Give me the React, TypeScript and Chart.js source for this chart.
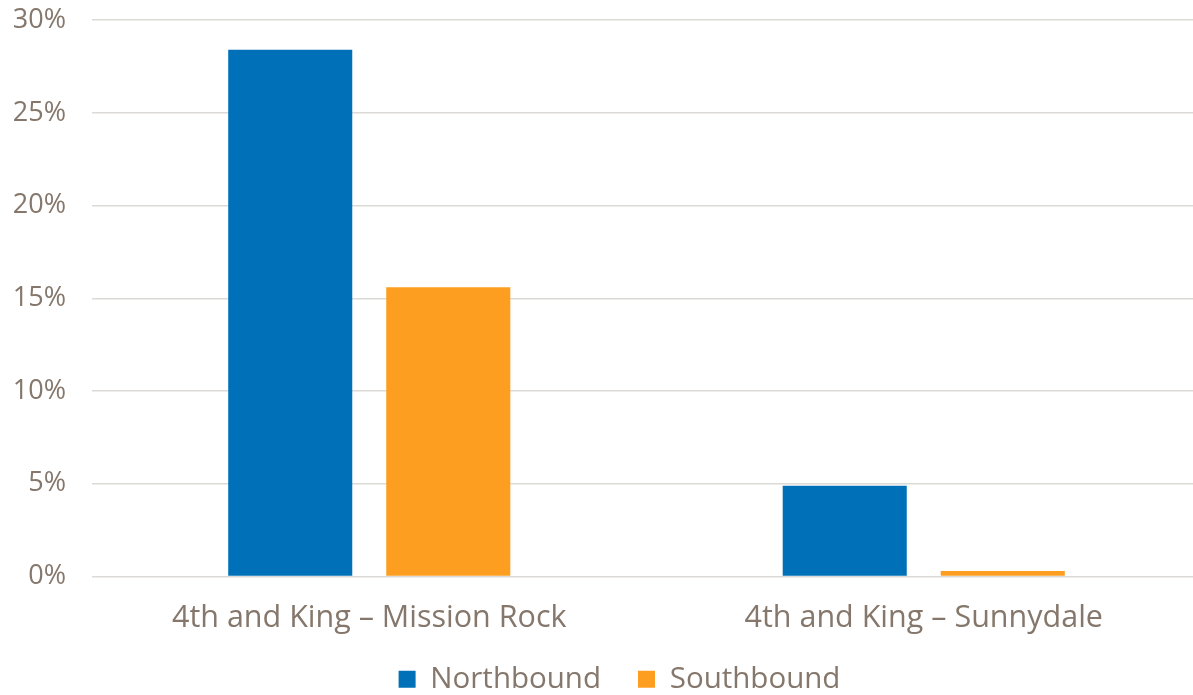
import React, { useEffect, useRef } from "react";
import { Chart, registerables } from "chart.js";

Chart.register(...registerables);

const categories = ["4th and King – Mission Rock", "4th and King – Sunnydale"];
const northbound = [28.4, 4.9];
const southbound = [15.6, 0.3];
const yTicks = [0, 5, 10, 15, 20, 25, 30];

const TEXT = "#85776b";
const FONT = "'Open Sans', 'Noto Sans', sans-serif";

const layoutTweaks = {
  id: "layoutTweaks",
  afterLayout(chart: any) {
    const l = chart.legend;
    if (l) {
      l.left += 19;
      l.right += 19;
    }
    const x = chart.scales.x;
    if (x) {
      x.bottom += 60;
    }
  },
};

export default function App() {
  const ref = useRef<HTMLCanvasElement | null>(null);
  useEffect(() => {
    if (!ref.current) return;
    const chart = new Chart(ref.current, {
      type: "bar",
      data: {
        labels: categories,
        datasets: [
          { label: "Northbound", data: northbound, backgroundColor: "#0071b9" },
          { label: "Southbound", data: southbound, backgroundColor: "#fd9e21" },
        ],
      },
      plugins: [layoutTweaks],
      options: {
        animation: false,
        responsive: false,
        maintainAspectRatio: false,
        layout: { padding: { top: 0, left: 0, right: 0, bottom: 0 } },
        datasets: {
          bar: { categoryPercentage: 0.57, barPercentage: 0.785 },
        },
        scales: {
          x: {
            grid: { display: false, drawTicks: false },
            border: { display: false },
            ticks: {
              color: TEXT,
              font: { family: FONT, size: 30.5 },
              padding: 24,
              maxRotation: 0,
              autoSkip: false,
            },
            afterFit: (s: any) => {
              s.height = 51;
            },
          },
          y: {
            min: 0,
            max: 30,
            afterBuildTicks: (s: any) => {
              s.ticks = yTicks.map((v) => ({ value: v }));
            },
            grid: { color: "#dcdad6", lineWidth: 1.5, drawTicks: false },
            border: { display: false },
            ticks: {
              color: TEXT,
              font: { family: FONT, size: 27 },
              padding: 26,
              callback: (v: any) => v + "%",
            },
            afterFit: (s: any) => {
              s.width = 92;
            },
          },
        },
        plugins: {
          legend: {
            position: "bottom",
            labels: {
              color: TEXT,
              font: { family: FONT, size: 29.5 },
              boxWidth: 17,
              boxHeight: 17,
              padding: 37,
            },
          },
          tooltip: { enabled: false },
        },
      },
    });
    return () => chart.destroy();
  }, []);
  return (
    <div
      style={{
        position: "fixed",
        left: 0,
        top: 0,
        width: 1193,
        height: 695,
        overflow: "hidden",
        background: "#fff",
      }}
    >
      <canvas
        ref={ref}
        width={1201}
        height={726}
        style={{ display: "block", marginTop: -22 }}
      />
    </div>
  );
}
